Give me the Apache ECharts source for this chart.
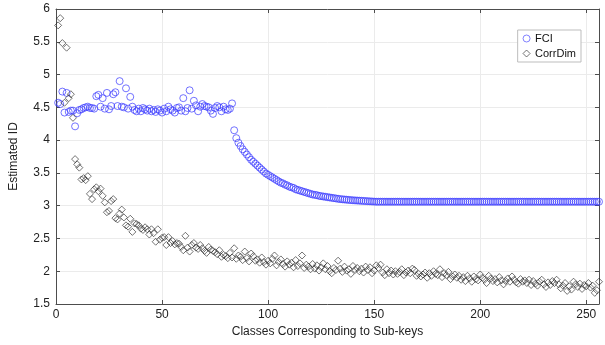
<!DOCTYPE html>
<html>
<head>
<meta charset="utf-8">
<script src="https://cdn.jsdelivr.net/npm/echarts@6/dist/echarts.min.js"></script>
<style>
  html, body { margin: 0; padding: 0; background: #fff; }
  #chart { width: 605px; height: 345px; }
</style>
</head>
<body>
<div id="chart"></div>
<script>
// values, index i -> class i+1
const fci = [
  4.57, 4.55, 4.74, 4.42, 4.72, 4.43, 4.45, 4.45, 4.21, 4.41,
  4.46, 4.47, 4.49, 4.50, 4.51, 4.49, 4.49, 4.48, 4.67, 4.69,
  4.51, 4.64, 4.48, 4.72, 4.47, 4.52, 4.70, 4.73, 4.52, 4.90,
  4.51, 4.50, 4.79, 4.48, 4.66, 4.51, 4.46, 4.44, 4.48, 4.44,
  4.49, 4.47, 4.45, 4.48, 4.44, 4.46, 4.43, 4.47, 4.45, 4.42,
  4.48, 4.44, 4.51, 4.47, 4.45, 4.42, 4.49, 4.50, 4.45, 4.64,
  4.44, 4.49, 4.76, 4.48, 4.60, 4.53, 4.44, 4.51, 4.55, 4.52,
  4.51, 4.50, 4.45, 4.40, 4.49, 4.52, 4.50, 4.44, 4.51, 4.47,
  4.46, 4.48, 4.56, 4.15, 4.03, 3.96, 3.91, 3.86, 3.82, 3.78,
  3.74, 3.70, 3.67, 3.64, 3.61, 3.58, 3.55, 3.52, 3.49, 3.47,
  3.45, 3.43, 3.41, 3.39, 3.37, 3.35, 3.34, 3.32, 3.31, 3.29,
  3.28, 3.27, 3.25, 3.24, 3.23, 3.22, 3.21, 3.20, 3.19, 3.18,
  3.17, 3.165, 3.16, 3.15, 3.145, 3.14, 3.135, 3.13, 3.125, 3.12,
  3.115, 3.11, 3.105, 3.10, 3.097, 3.094, 3.091, 3.088, 3.085, 3.082,
  3.08, 3.078, 3.076, 3.074, 3.072, 3.07, 3.068, 3.066, 3.064, 3.062,
  3.06, 3.06, 3.06, 3.06, 3.06, 3.06, 3.06, 3.06, 3.06, 3.06,
  3.06, 3.06, 3.06, 3.06, 3.06, 3.06, 3.06, 3.06, 3.06, 3.06,
  3.06, 3.06, 3.06, 3.06, 3.06, 3.06, 3.06, 3.06, 3.06, 3.06,
  3.06, 3.06, 3.06, 3.06, 3.06, 3.06, 3.06, 3.06, 3.06, 3.06,
  3.06, 3.06, 3.06, 3.06, 3.06, 3.06, 3.06, 3.06, 3.06, 3.06,
  3.06, 3.06, 3.06, 3.06, 3.06, 3.06, 3.06, 3.06, 3.06, 3.06,
  3.06, 3.06, 3.06, 3.06, 3.06, 3.06, 3.06, 3.06, 3.06, 3.06,
  3.06, 3.06, 3.06, 3.06, 3.06, 3.06, 3.06, 3.06, 3.06, 3.06,
  3.06, 3.06, 3.06, 3.06, 3.06, 3.06, 3.06, 3.06, 3.06, 3.06,
  3.06, 3.06, 3.06, 3.06, 3.06, 3.06, 3.06, 3.06, 3.06, 3.06,
  3.06, 3.06, 3.06, 3.06, 3.06, 3.06
];
const corrDim = [
  5.75, 5.86, 5.48, 4.57, 5.41, 4.64, 4.70, 4.34, 3.71, 3.63,
  3.58, 3.40, 3.42, 3.39, 3.45, 3.18, 3.10, 3.25, 3.28, 3.22,
  3.26, 3.15, 3.05, 2.90, 2.92, 3.07, 3.10, 2.81, 2.79, 2.88,
  2.94, 2.82, 2.70, 2.68, 2.80, 2.60, 2.73, 2.72, 2.70, 2.65,
  2.63, 2.67, 2.64, 2.56, 2.64, 2.58, 2.45, 2.64, 2.48, 2.51,
  2.52, 2.40, 2.52, 2.43, 2.46, 2.41, 2.43, 2.42, 2.37, 2.32,
  2.54, 2.36, 2.30, 2.40, 2.43, 2.36, 2.34, 2.40, 2.35, 2.31,
  2.28, 2.37, 2.33, 2.31, 2.29, 2.26, 2.32, 2.22, 2.25, 2.23,
  2.20, 2.28, 2.21, 2.35, 2.19, 2.24, 2.22, 2.17, 2.30, 2.20,
  2.15, 2.27, 2.23, 2.16, 2.18, 2.13, 2.21, 2.14, 2.10, 2.16,
  2.12, 2.19, 2.24, 2.09, 2.14, 2.18, 2.11, 2.07, 2.15, 2.10,
  2.13, 2.06, 2.17, 2.08, 2.12, 2.24, 2.05, 2.10, 2.07, 2.03,
  2.11, 2.04, 2.09, 2.01, 2.06, 2.12, 2.03, 2.08, 2.00, 1.97,
  2.05, 2.02, 2.16, 2.04, 1.99, 2.07, 2.01, 2.03, 1.96, 2.08,
  2.02, 2.05, 2.00, 2.04, 1.98, 2.07, 2.02, 2.06, 1.97, 2.01,
  2.09, 2.05, 2.10, 1.98, 1.94, 2.03, 1.97, 2.01, 1.95, 2.00,
  1.96, 1.99, 2.03, 1.94, 1.98, 2.01, 1.97, 2.04, 2.02, 1.93,
  1.96, 1.92, 1.95, 1.98, 1.90, 1.97, 1.93, 2.00, 1.96, 1.94,
  2.03, 1.91, 1.97, 1.94, 1.99, 1.88, 1.92, 1.95, 1.90, 1.93,
  1.87, 1.91, 1.85, 1.93, 1.89, 1.84, 1.92, 1.88, 1.86, 1.95,
  1.90, 1.87, 1.82, 1.93, 1.89, 1.85, 1.88, 1.83, 1.91, 1.86,
  1.80, 1.85, 1.89, 1.84, 1.92, 1.87, 1.83, 1.81, 1.88, 1.84,
  1.86, 1.82, 1.87, 1.79, 1.85, 1.81, 1.78, 1.84, 1.87, 1.80,
  1.76, 1.83, 1.79, 1.85, 1.82, 1.87, 1.80, 1.74, 1.78, 1.82,
  1.70, 1.77, 1.72, 1.84, 1.80, 1.76, 1.81, 1.73, 1.79, 1.77,
  1.82, 1.75, 1.78, 1.67, 1.71, 1.84
];
const xTicks = [0, 50, 100, 150, 200, 250];

const toPoints = arr => arr.map((v, i) => [i + 1, v]);

const chart = echarts.init(document.getElementById('chart'));
const font = 'Helvetica, Arial, "Liberation Sans", sans-serif';
const axisColor = '#4d4d4d';

chart.setOption({
  animation: false,
  textStyle: { fontFamily: font },
  grid: { left: 55, top: 9, right: 6, bottom: 41, show: false },
  legend: {
    right: 24, top: 30,
    orient: 'vertical',
    itemWidth: 7, itemHeight: 7, itemGap: 4,
    padding: [3, 5, 3, 5],
    borderColor: '#bdbdbd', borderWidth: 1, borderRadius: 0,
    backgroundColor: '#fff',
    itemStyle: { borderWidth: 0.8 },
    textStyle: { fontSize: 11, color: '#111', fontFamily: font },
    data: ['FCI', 'CorrDim']
  },
  xAxis: [{
    type: 'value', min: 0, max: 256, interval: 50,
    name: 'Classes Corresponding to Sub-keys',
    nameLocation: 'middle', nameGap: 22,
    nameTextStyle: { fontSize: 12, color: '#222' },
    axisLine: { show: true, lineStyle: { color: axisColor } },
    axisTick: { show: true, inside: true, length: 4, lineStyle: { color: axisColor } },
    axisLabel: { fontSize: 12, color: '#222', margin: 5,
      formatter: v => xTicks.indexOf(v) >= 0 ? String(v) : '' },
    splitLine: { show: true, lineStyle: { color: '#ebebeb' } }
  }, {
    type: 'value', min: 0, max: 256, interval: 50, position: 'top',
    axisLine: { show: true, onZero: false, lineStyle: { color: axisColor } },
    axisTick: { show: true, inside: true, length: 4, lineStyle: { color: axisColor } },
    axisLabel: { show: false }, splitLine: { show: false }
  }],
  yAxis: [{
    type: 'value', min: 1.5, max: 6, interval: 0.5,
    name: 'Estimated ID',
    nameLocation: 'middle', nameGap: 36, nameRotate: 90,
    nameTextStyle: { fontSize: 12, color: '#222' },
    axisLine: { show: true, lineStyle: { color: axisColor } },
    axisTick: { show: true, inside: true, length: 4, lineStyle: { color: axisColor } },
    axisLabel: { fontSize: 12, color: '#222', margin: 6 },
    splitLine: { show: true, lineStyle: { color: '#ebebeb' } }
  }, {
    type: 'value', min: 1.5, max: 6, interval: 0.5, position: 'right',
    axisLine: { show: true, onZero: false, lineStyle: { color: axisColor } },
    axisTick: { show: true, inside: true, length: 4, lineStyle: { color: axisColor } },
    axisLabel: { show: false }, splitLine: { show: false }
  }],
  series: [{
    name: 'FCI', type: 'scatter',
    data: toPoints(fci),
    symbol: 'circle', symbolSize: 7,
    itemStyle: { color: 'rgba(0,0,0,0)', borderColor: '#3c3cff', borderWidth: 0.9 }
  }, {
    name: 'CorrDim', type: 'scatter',
    data: toPoints(corrDim),
    symbol: 'diamond', symbolSize: 7,
    itemStyle: { color: 'rgba(0,0,0,0)', borderColor: '#222', borderWidth: 0.8 }
  }]
});
</script>
</body>
</html>
